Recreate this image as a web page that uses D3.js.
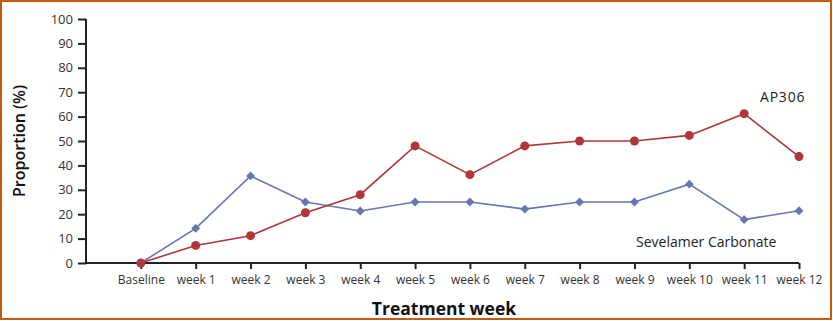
<!DOCTYPE html>
<html>
<head>
<meta charset="utf-8">
<script src="https://cdnjs.cloudflare.com/ajax/libs/d3/7.8.5/d3.min.js"></script>
<style>
  body { margin: 0; background: #fff; }
  svg text { font-family: "Open Sans", "Lato", sans-serif; fill: #222; }
</style>
</head>
<body>
<div id="chart"></div>
<script>
// categories and series
var weeks = ["Baseline", "week 1", "week 2", "week 3", "week 4", "week 5", "week 6",
             "week 7", "week 8", "week 9", "week 10", "week 11", "week 12"];
var ap306 = [0, 7.2, 11.2, 20.6, 28, 48, 36.2, 48, 50, 50, 52.3, 61.2, 43.6];
var sevelamer = [0, 14.2, 35.7, 25, 21.3, 25, 25, 22.1, 25, 25, 32.3, 17.8, 21.4];
var yTicks = [0, 10, 20, 30, 40, 50, 60, 70, 80, 90, 100];

const W = 833, H = 321;
const plotLeft = 86, plotRight = 799, plotTop = 19, plotBottom = 263;

var svg = d3.select("#chart").append("svg")
  .attr("width", W)
  .attr("height", H);

// frame
svg.append("rect")
  .attr("x", 1).attr("y", 1)
  .attr("width", W - 3).attr("height", H - 3)
  .style("fill", "none")
  .style("stroke", "#c55a11")
  .style("stroke-width", 2);

// index -1 is the empty slot between the y axis and Baseline
var x = d3.scaleLinear().domain([-1, weeks.length - 1]).range([plotLeft, plotRight]);
var y = d3.scaleLinear().domain([0, 100]).range([plotBottom, plotTop]);

var yAxis = d3.axisLeft(y).tickValues(yTicks).tickSize(8).tickPadding(5);
var gy = svg.append("g")
  .attr("transform", "translate(" + plotLeft + ",0)")
  .call(yAxis);
gy.select(".domain").attr("d", "M0," + plotTop + "V" + plotBottom);

var xAxis = d3.axisBottom(x)
  .tickValues(d3.range(weeks.length))
  .tickFormat(function(i) { return weeks[i]; })
  .tickSize(6).tickPadding(6);
var gx = svg.append("g")
  .attr("transform", "translate(0," + plotBottom + ")")
  .call(xAxis);
gx.select(".domain").attr("d", "M" + plotLeft + ",0H" + plotRight);

svg.selectAll(".domain, .tick line")
  .style("stroke", "#222")
  .style("stroke-width", 2);
svg.selectAll(".tick text")
  .style("font-size", "12px")
  .style("fill", "#333")
  .style("font-family", "'Open Sans', sans-serif");
gy.selectAll(".tick text").style("font-size", "13px");

var line = d3.line()
  .x(function(d, i) { return x(i); })
  .y(function(d) { return y(d); });

// blue series with diamond markers
svg.append("path")
  .datum(sevelamer)
  .attr("d", line)
  .style("fill", "none")
  .style("stroke", "#6477b0")
  .style("stroke-width", 1.6);

svg.append("g")
  .selectAll("path")
  .data(sevelamer)
  .enter()
  .append("path")
  .attr("d", d3.symbol().type(d3.symbolDiamond2).size(50))
  .attr("transform", function(d, i) { return "translate(" + x(i) + "," + y(d) + ")"; })
  .style("fill", "#6477b0");

// red series with circle markers
svg.append("path")
  .datum(ap306)
  .attr("d", line)
  .style("fill", "none")
  .style("stroke", "#b0363a")
  .style("stroke-width", 1.6);

svg.append("g")
  .selectAll("circle")
  .data(ap306)
  .enter()
  .append("circle")
  .attr("cx", function(d, i) { return x(i); })
  .attr("cy", function(d) { return y(d); })
  .attr("r", 4.5)
  .style("fill", "#b0363a");

// series labels
svg.append("text")
  .attr("x", 760).attr("y", 102)
  .style("font-size", "14px")
  .style("letter-spacing", "0.8px")
  .text("AP306");

svg.append("text")
  .attr("x", 636).attr("y", 247)
  .style("font-size", "14px")
  .text("Sevelamer Carbonate");

// axis titles
svg.append("text")
  .attr("transform", "translate(25," + 141 + ") rotate(270)")
  .style("text-anchor", "middle")
  .style("font-size", "16px")
  .style("font-weight", "600")
  .style("fill", "#111")
  .text("Proportion (%)");

svg.append("text")
  .attr("x", 444).attr("y", 315)
  .style("text-anchor", "middle")
  .style("font-size", "17.5px")
  .style("font-weight", "bold")
  .style("fill", "#111")
  .text("Treatment week");
</script>
</body>
</html>
